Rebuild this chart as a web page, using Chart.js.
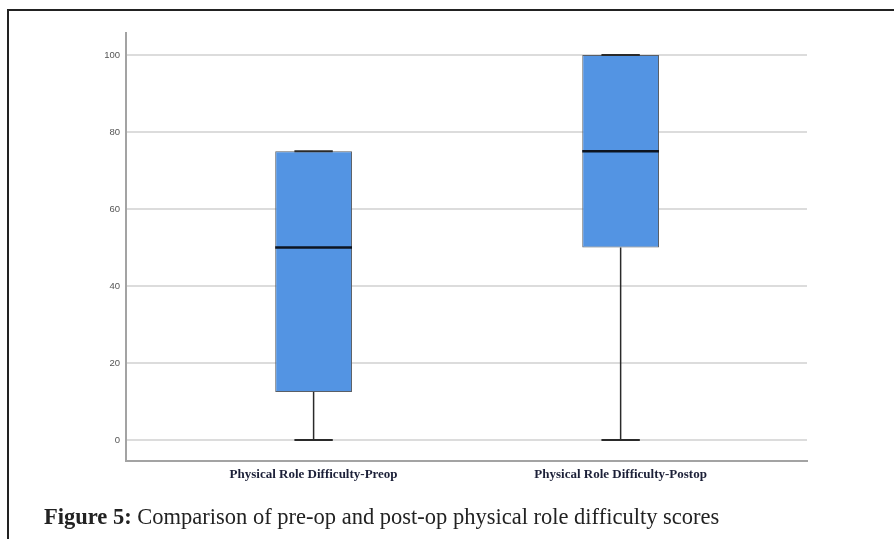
<!DOCTYPE html>
<html>
<head>
<meta charset="utf-8">
<script src="https://cdn.jsdelivr.net/npm/chart.js@4/dist/chart.umd.min.js"></script>
<style>
  html, body { margin: 0; padding: 0; background: #fff; }
  body { width: 894px; height: 539px; position: relative; overflow: hidden; }
  .frame {
    position: absolute; left: 7px; top: 9px; right: -10px; bottom: -10px;
    border-left: 2.5px solid #222; border-top: 2.5px solid #222;
  }
  .wrap { position: absolute; left: 0; top: 0; width: 894px; height: 539px; }
  .caption {
    position: absolute; left: 44px; top: 506px; line-height: 1;
    font-family: "Liberation Serif", "Times New Roman", serif;
    font-size: 22.5px; color: #222; white-space: nowrap;
  }
  .caption b { font-weight: bold; }
</style>
</head>
<body>
<div class="frame"></div>
<div class="wrap"><canvas id="boxChart"></canvas></div>
<div class="caption"><b>Figure 5:</b> Comparison of pre-op and post-op physical role difficulty scores</div>
<script>
const categories = ['Physical Role Difficulty-Preop', 'Physical Role Difficulty-Postop'];
const minValues = [0, 0];
const q1Values = [12.5, 50];
const medianValues = [50, 75];
const q3Values = [75, 100];
const maxValues = [75, 100];
const yTicks = [0, 20, 40, 60, 80, 100];

document.addEventListener('DOMContentLoaded', () => {

    // whiskers, caps and median drawn on top of the floating bars
    const boxExtras = {
        id: 'boxExtras',
        afterDatasetsDraw(chart) {
            const ctx = chart.ctx;
            const y = chart.scales.y;
            const meta = chart.getDatasetMeta(0);
            meta.data.forEach((bar, i) => {
                const cx = bar.x;
                const half = bar.width / 2;
                const yMin = y.getPixelForValue(minValues[i]);
                const yQ1 = y.getPixelForValue(q1Values[i]);
                const yMed = y.getPixelForValue(medianValues[i]);
                const yQ3 = y.getPixelForValue(q3Values[i]);
                const yMax = y.getPixelForValue(maxValues[i]);

                ctx.save();
                ctx.strokeStyle = '#2a2a2a';
                ctx.lineWidth = 1.5;
                ctx.beginPath();
                ctx.moveTo(cx, yQ1);
                ctx.lineTo(cx, yMin);
                ctx.moveTo(cx, yQ3);
                ctx.lineTo(cx, yMax);
                ctx.stroke();

                ctx.lineWidth = 2;
                ctx.beginPath();
                ctx.moveTo(cx - half / 2, yMin);
                ctx.lineTo(cx + half / 2, yMin);
                ctx.moveTo(cx - half / 2, yMax);
                ctx.lineTo(cx + half / 2, yMax);
                ctx.stroke();

                ctx.strokeStyle = '#0d1420';
                ctx.lineWidth = 2.5;
                ctx.beginPath();
                ctx.moveTo(cx - half, yMed);
                ctx.lineTo(cx + half, yMed);
                ctx.stroke();
                ctx.restore();
            });
        }
    };

    const boxChart = document.getElementById('boxChart');
    if (boxChart) {
        new Chart(boxChart.getContext('2d'), {
            type: 'bar',
            data: {
                datasets: [{
                    data: categories.map((c, i) => ({ x: i, y: [q1Values[i], q3Values[i]] })),
                    backgroundColor: '#5394e3',
                    borderColor: '#5a5f66',
                    borderWidth: 1,
                    borderSkipped: false,
                    barPercentage: 0.25,
                    categoryPercentage: 1
                }]
            },
            options: {
                responsive: true,
                maintainAspectRatio: false,
                animation: false,
                layout: { padding: { top: 33, right: 87, bottom: 48, left: 0 } },
                plugins: {
                    legend: { display: false },
                    tooltip: { enabled: false }
                },
                scales: {
                    x: {
                        type: 'linear',
                        offset: false,
                        min: -0.611,
                        max: 1.607,
                        afterBuildTicks: (scale) => {
                            scale.ticks = categories.map((c, i) => ({ value: i }));
                        },
                        afterFit: (scale) => { scale.height = 30; },
                        grid: { display: false, drawTicks: false },
                        border: { display: true, color: '#a3a3a3', width: 2 },
                        ticks: {
                            callback: (v) => categories[v],
                            color: '#1c2038',
                            padding: 6,
                            maxRotation: 0,
                            autoSkip: false,
                            font: { family: '"Liberation Serif", serif', size: 13, weight: 'bold' }
                        }
                    },
                    y: {
                        min: -5.45,
                        max: 105.7,
                        afterBuildTicks: (scale) => {
                            scale.ticks = yTicks.map(v => ({ value: v }));
                        },
                        afterFit: (scale) => { scale.width = 126; },
                        grid: { color: '#dcdcdc', lineWidth: 2, drawTicks: false },
                        border: { display: true, color: '#a3a3a3', width: 2 },
                        ticks: {
                            color: '#555',
                            padding: 6,
                            font: { family: '"Liberation Sans", Arial, sans-serif', size: 9.5 }
                        }
                    }
                }
            },
            plugins: [boxExtras]
        });
    }
});
</script>
</body>
</html>
